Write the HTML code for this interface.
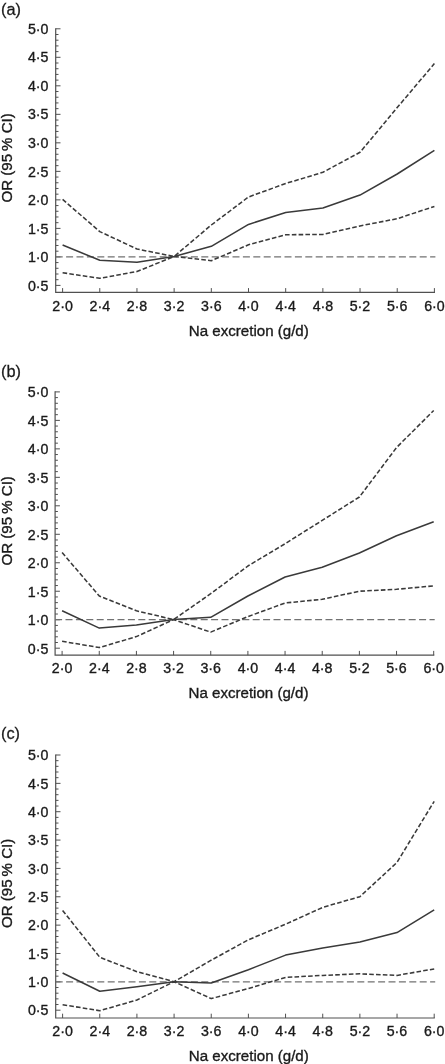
<!DOCTYPE html>
<html><head><meta charset="utf-8"><title>OR vs Na excretion</title>
<style>
html,body{margin:0;padding:0;background:#fff;}
body{width:445px;height:1064px;overflow:hidden;}
svg{display:block;will-change:transform;}
text{font-family:"Liberation Sans",sans-serif;fill:#1a1a1a;stroke:#1a1a1a;stroke-width:0.35px;}
.tk{font-size:14.2px;}
.tt{font-size:15.1px;}
.lb{font-size:16px;stroke-width:0.25px;}
</style></head>
<body>
<svg width="445" height="1064" viewBox="0 0 445 1064">
<rect width="445" height="1064" fill="#fff"/>
<g>
<text class="lb" transform="translate(1.0 14.5) scale(1.02 1)">(a)</text>
<path d="M55.70 28.20 V292.40 H435.00" fill="none" stroke="#505050" stroke-width="1.2"/>
<path d="M55.70 285.40h4.8M55.70 279.70h2.8M55.70 274.00h2.8M55.70 268.29h2.8M55.70 262.59h2.8M55.70 256.89h4.8M55.70 251.19h2.8M55.70 245.48h2.8M55.70 239.78h2.8M55.70 234.08h2.8M55.70 228.38h4.8M55.70 222.68h2.8M55.70 216.97h2.8M55.70 211.27h2.8M55.70 205.57h2.8M55.70 199.87h4.8M55.70 194.16h2.8M55.70 188.46h2.8M55.70 182.76h2.8M55.70 177.06h2.8M55.70 171.36h4.8M55.70 165.65h2.8M55.70 159.95h2.8M55.70 154.25h2.8M55.70 148.55h2.8M55.70 142.84h4.8M55.70 137.14h2.8M55.70 131.44h2.8M55.70 125.74h2.8M55.70 120.04h2.8M55.70 114.33h4.8M55.70 108.63h2.8M55.70 102.93h2.8M55.70 97.23h2.8M55.70 91.52h2.8M55.70 85.82h4.8M55.70 80.12h2.8M55.70 74.42h2.8M55.70 68.72h2.8M55.70 63.01h2.8M55.70 57.31h4.8M55.70 51.61h2.8M55.70 45.91h2.8M55.70 40.20h2.8M55.70 34.50h2.8M55.70 28.80h4.8M62.60 292.40v-4.3M99.78 292.40v-4.3M136.96 292.40v-4.3M174.14 292.40v-4.3M211.32 292.40v-4.3M248.50 292.40v-4.3M285.68 292.40v-4.3M322.86 292.40v-4.3M360.04 292.40v-4.3M397.22 292.40v-4.3M434.40 292.40v-4.3" fill="none" stroke="#505050" stroke-width="1.0"/>
<text class="tk" text-anchor="end" x="48.5" y="290.5">0·5</text>
<text class="tk" text-anchor="end" x="48.5" y="262.0">1·0</text>
<text class="tk" text-anchor="end" x="48.5" y="233.5">1·5</text>
<text class="tk" text-anchor="end" x="48.5" y="205.0">2·0</text>
<text class="tk" text-anchor="end" x="48.5" y="176.5">2·5</text>
<text class="tk" text-anchor="end" x="48.5" y="147.9">3·0</text>
<text class="tk" text-anchor="end" x="48.5" y="119.4">3·5</text>
<text class="tk" text-anchor="end" x="48.5" y="90.9">4·0</text>
<text class="tk" text-anchor="end" x="48.5" y="62.4">4·5</text>
<text class="tk" text-anchor="end" x="48.5" y="33.9">5·0</text>
<text class="tk" text-anchor="middle" x="62.6" y="311.0">2·0</text>
<text class="tk" text-anchor="middle" x="99.8" y="311.0">2·4</text>
<text class="tk" text-anchor="middle" x="137.0" y="311.0">2·8</text>
<text class="tk" text-anchor="middle" x="174.1" y="311.0">3·2</text>
<text class="tk" text-anchor="middle" x="211.3" y="311.0">3·6</text>
<text class="tk" text-anchor="middle" x="248.5" y="311.0">4·0</text>
<text class="tk" text-anchor="middle" x="285.7" y="311.0">4·4</text>
<text class="tk" text-anchor="middle" x="322.9" y="311.0">4·8</text>
<text class="tk" text-anchor="middle" x="360.0" y="311.0">5·2</text>
<text class="tk" text-anchor="middle" x="397.2" y="311.0">5·6</text>
<text class="tk" text-anchor="middle" x="434.4" y="311.0">6·0</text>
<text class="tt" text-anchor="middle" x="248.8" y="336.0">Na excretion (g/d)</text>
<text class="tt" text-anchor="middle" transform="translate(12.3 157.9) rotate(-90)">OR (95<tspan dx="3">%</tspan> CI)</text>
<path d="M55.70 256.89H435.40" fill="none" stroke="#727272" stroke-width="1.3" stroke-dasharray="7 3.4"/>
<polyline points="62.6,199.4 99.8,231.6 137.0,249.0 174.1,256.5 211.3,225.0 248.5,197.0 285.7,183.5 322.9,172.3 360.0,152.3 397.2,107.6 434.4,63.6" fill="none" stroke="#3a3a3a" stroke-width="1.55" stroke-linejoin="round" stroke-dasharray="4.6 2.2"/>
<polyline points="62.6,272.7 99.8,278.3 137.0,271.5 174.1,256.5 211.3,260.7 248.5,244.8 285.7,234.7 322.9,234.5 360.0,225.9 397.2,218.7 434.4,206.4" fill="none" stroke="#3a3a3a" stroke-width="1.55" stroke-linejoin="round" stroke-dasharray="4.6 2.2"/>
<polyline points="62.6,245.0 99.8,260.3 137.0,262.2 174.1,256.5 211.3,246.3 248.5,224.4 285.7,212.4 322.9,208.0 360.0,195.1 397.2,174.0 434.4,150.3" fill="none" stroke="#3a3a3a" stroke-width="1.55" stroke-linejoin="round"/>
</g>
<g>
<text class="lb" transform="translate(1.0 376.5) scale(1.02 1)">(b)</text>
<path d="M55.10 391.30 V655.20 H434.30" fill="none" stroke="#505050" stroke-width="1.2"/>
<path d="M55.10 648.20h4.8M55.10 642.50h2.8M55.10 636.81h2.8M55.10 631.11h2.8M55.10 625.42h2.8M55.10 619.72h4.8M55.10 614.03h2.8M55.10 608.33h2.8M55.10 602.64h2.8M55.10 596.94h2.8M55.10 591.24h4.8M55.10 585.55h2.8M55.10 579.85h2.8M55.10 574.16h2.8M55.10 568.46h2.8M55.10 562.77h4.8M55.10 557.07h2.8M55.10 551.38h2.8M55.10 545.68h2.8M55.10 539.98h2.8M55.10 534.29h4.8M55.10 528.59h2.8M55.10 522.90h2.8M55.10 517.20h2.8M55.10 511.51h2.8M55.10 505.81h4.8M55.10 500.12h2.8M55.10 494.42h2.8M55.10 488.72h2.8M55.10 483.03h2.8M55.10 477.33h4.8M55.10 471.64h2.8M55.10 465.94h2.8M55.10 460.25h2.8M55.10 454.55h2.8M55.10 448.86h4.8M55.10 443.16h2.8M55.10 437.46h2.8M55.10 431.77h2.8M55.10 426.07h2.8M55.10 420.38h4.8M55.10 414.68h2.8M55.10 408.99h2.8M55.10 403.29h2.8M55.10 397.60h2.8M55.10 391.90h4.8M62.10 655.20v-4.3M99.26 655.20v-4.3M136.42 655.20v-4.3M173.58 655.20v-4.3M210.74 655.20v-4.3M247.90 655.20v-4.3M285.06 655.20v-4.3M322.22 655.20v-4.3M359.38 655.20v-4.3M396.54 655.20v-4.3M433.70 655.20v-4.3" fill="none" stroke="#505050" stroke-width="1.0"/>
<text class="tk" text-anchor="end" x="48.3" y="653.6">0·5</text>
<text class="tk" text-anchor="end" x="48.3" y="625.1">1·0</text>
<text class="tk" text-anchor="end" x="48.3" y="596.6">1·5</text>
<text class="tk" text-anchor="end" x="48.3" y="568.2">2·0</text>
<text class="tk" text-anchor="end" x="48.3" y="539.7">2·5</text>
<text class="tk" text-anchor="end" x="48.3" y="511.2">3·0</text>
<text class="tk" text-anchor="end" x="48.3" y="482.7">3·5</text>
<text class="tk" text-anchor="end" x="48.3" y="454.3">4·0</text>
<text class="tk" text-anchor="end" x="48.3" y="425.8">4·5</text>
<text class="tk" text-anchor="end" x="48.3" y="397.3">5·0</text>
<text class="tk" text-anchor="middle" x="62.1" y="673.0">2·0</text>
<text class="tk" text-anchor="middle" x="99.3" y="673.0">2·4</text>
<text class="tk" text-anchor="middle" x="136.4" y="673.0">2·8</text>
<text class="tk" text-anchor="middle" x="173.6" y="673.0">3·2</text>
<text class="tk" text-anchor="middle" x="210.7" y="673.0">3·6</text>
<text class="tk" text-anchor="middle" x="247.9" y="673.0">4·0</text>
<text class="tk" text-anchor="middle" x="285.1" y="673.0">4·4</text>
<text class="tk" text-anchor="middle" x="322.2" y="673.0">4·8</text>
<text class="tk" text-anchor="middle" x="359.4" y="673.0">5·2</text>
<text class="tk" text-anchor="middle" x="396.5" y="673.0">5·6</text>
<text class="tk" text-anchor="middle" x="433.7" y="673.0">6·0</text>
<text class="tt" text-anchor="middle" x="248.5" y="698.0">Na excretion (g/d)</text>
<text class="tt" text-anchor="middle" transform="translate(12.3 520.8) rotate(-90)">OR (95<tspan dx="3">%</tspan> CI)</text>
<path d="M55.10 619.72H434.70" fill="none" stroke="#727272" stroke-width="1.3" stroke-dasharray="7 3.4"/>
<polyline points="62.1,552.6 99.3,596.0 136.4,610.8 173.6,619.6 210.7,593.7 247.9,566.0 285.1,543.7 322.2,520.4 359.4,497.0 396.5,447.6 433.7,410.5" fill="none" stroke="#3a3a3a" stroke-width="1.55" stroke-linejoin="round" stroke-dasharray="4.6 2.2"/>
<polyline points="62.1,641.3 99.3,647.6 136.4,636.6 173.6,619.6 210.7,632.1 247.9,616.6 285.1,603.0 322.2,599.3 359.4,591.2 396.5,589.3 433.7,585.9" fill="none" stroke="#3a3a3a" stroke-width="1.55" stroke-linejoin="round" stroke-dasharray="4.6 2.2"/>
<polyline points="62.1,610.8 99.3,628.1 136.4,624.9 173.6,619.6 210.7,617.3 247.9,596.0 285.1,577.0 322.2,567.2 359.4,553.0 396.5,535.8 433.7,521.7" fill="none" stroke="#3a3a3a" stroke-width="1.55" stroke-linejoin="round"/>
</g>
<g>
<text class="lb" transform="translate(1.0 738.8) scale(1.02 1)">(c)</text>
<path d="M55.70 754.40 V1018.00 H434.80" fill="none" stroke="#505050" stroke-width="1.2"/>
<path d="M55.70 1010.20h4.8M55.70 1004.53h2.8M55.70 998.86h2.8M55.70 993.19h2.8M55.70 987.52h2.8M55.70 981.84h4.8M55.70 976.17h2.8M55.70 970.50h2.8M55.70 964.83h2.8M55.70 959.16h2.8M55.70 953.49h4.8M55.70 947.82h2.8M55.70 942.15h2.8M55.70 936.48h2.8M55.70 930.80h2.8M55.70 925.13h4.8M55.70 919.46h2.8M55.70 913.79h2.8M55.70 908.12h2.8M55.70 902.45h2.8M55.70 896.78h4.8M55.70 891.11h2.8M55.70 885.44h2.8M55.70 879.76h2.8M55.70 874.09h2.8M55.70 868.42h4.8M55.70 862.75h2.8M55.70 857.08h2.8M55.70 851.41h2.8M55.70 845.74h2.8M55.70 840.07h4.8M55.70 834.40h2.8M55.70 828.72h2.8M55.70 823.05h2.8M55.70 817.38h2.8M55.70 811.71h4.8M55.70 806.04h2.8M55.70 800.37h2.8M55.70 794.70h2.8M55.70 789.03h2.8M55.70 783.36h4.8M55.70 777.68h2.8M55.70 772.01h2.8M55.70 766.34h2.8M55.70 760.67h2.8M55.70 755.00h4.8M62.60 1018.00v-4.3M99.76 1018.00v-4.3M136.92 1018.00v-4.3M174.08 1018.00v-4.3M211.24 1018.00v-4.3M248.40 1018.00v-4.3M285.56 1018.00v-4.3M322.72 1018.00v-4.3M359.88 1018.00v-4.3M397.04 1018.00v-4.3M434.20 1018.00v-4.3" fill="none" stroke="#505050" stroke-width="1.0"/>
<text class="tk" text-anchor="end" x="48.5" y="1015.3">0·5</text>
<text class="tk" text-anchor="end" x="48.5" y="986.9">1·0</text>
<text class="tk" text-anchor="end" x="48.5" y="958.6">1·5</text>
<text class="tk" text-anchor="end" x="48.5" y="930.2">2·0</text>
<text class="tk" text-anchor="end" x="48.5" y="901.9">2·5</text>
<text class="tk" text-anchor="end" x="48.5" y="873.5">3·0</text>
<text class="tk" text-anchor="end" x="48.5" y="845.2">3·5</text>
<text class="tk" text-anchor="end" x="48.5" y="816.8">4·0</text>
<text class="tk" text-anchor="end" x="48.5" y="788.5">4·5</text>
<text class="tk" text-anchor="end" x="48.5" y="760.1">5·0</text>
<text class="tk" text-anchor="middle" x="62.6" y="1036.0">2·0</text>
<text class="tk" text-anchor="middle" x="99.8" y="1036.0">2·4</text>
<text class="tk" text-anchor="middle" x="136.9" y="1036.0">2·8</text>
<text class="tk" text-anchor="middle" x="174.1" y="1036.0">3·2</text>
<text class="tk" text-anchor="middle" x="211.2" y="1036.0">3·6</text>
<text class="tk" text-anchor="middle" x="248.4" y="1036.0">4·0</text>
<text class="tk" text-anchor="middle" x="285.6" y="1036.0">4·4</text>
<text class="tk" text-anchor="middle" x="322.7" y="1036.0">4·8</text>
<text class="tk" text-anchor="middle" x="359.9" y="1036.0">5·2</text>
<text class="tk" text-anchor="middle" x="397.0" y="1036.0">5·6</text>
<text class="tk" text-anchor="middle" x="434.2" y="1036.0">6·0</text>
<text class="tt" text-anchor="middle" x="248.8" y="1061.0">Na excretion (g/d)</text>
<text class="tt" text-anchor="middle" transform="translate(12.3 883.4) rotate(-90)">OR (95<tspan dx="3">%</tspan> CI)</text>
<path d="M55.70 981.84H435.20" fill="none" stroke="#727272" stroke-width="1.3" stroke-dasharray="7 3.4"/>
<polyline points="62.6,910.4 99.8,957.3 136.9,971.7 174.1,981.7 211.2,960.2 248.4,939.8 285.6,924.2 322.7,907.4 359.9,896.7 397.0,862.4 434.2,801.3" fill="none" stroke="#3a3a3a" stroke-width="1.55" stroke-linejoin="round" stroke-dasharray="4.6 2.2"/>
<polyline points="62.6,1004.7 99.8,1010.7 136.9,1000.0 174.1,981.7 211.2,998.6 248.4,988.5 285.6,977.4 322.7,975.4 359.9,973.8 397.0,975.4 434.2,968.9" fill="none" stroke="#3a3a3a" stroke-width="1.55" stroke-linejoin="round" stroke-dasharray="4.6 2.2"/>
<polyline points="62.6,973.0 99.8,991.2 136.9,986.8 174.1,981.7 211.2,982.9 248.4,969.7 285.6,955.1 322.7,947.9 359.9,942.1 397.0,932.6 434.2,909.9" fill="none" stroke="#3a3a3a" stroke-width="1.55" stroke-linejoin="round"/>
</g>
</svg>
</body></html>
